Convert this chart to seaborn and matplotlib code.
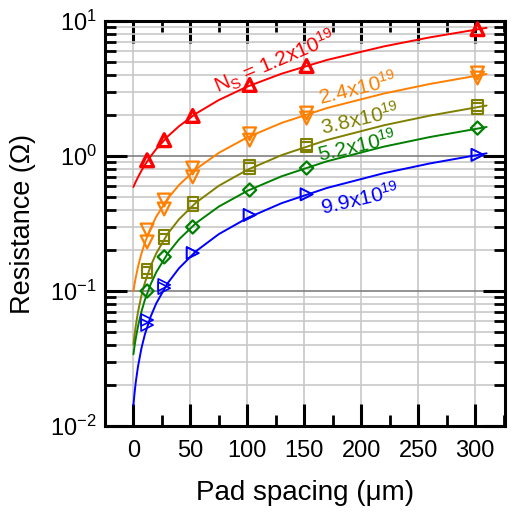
import numpy as np
import pandas as pd
import matplotlib
matplotlib.use("Agg")
import matplotlib.pyplot as plt
import seaborn as sns
from matplotlib.ticker import LogLocator, MultipleLocator, LogFormatterSciNotation, NullFormatter

# ---- data ----
pad_x = [12, 27, 52, 102, 152, 302]

red_pts = [0.93, 1.31, 1.98, 3.36, 4.64, 8.7]
orange_pts_a = [0.283, 0.472, 0.815, 1.46, 2.08, 4.12]
orange_pts_b = [0.231, 0.405, 0.70, 1.31, 1.91, 3.78]
olive_pts_a = [0.145, 0.258, 0.452, 0.85, 1.22, 2.37]
olive_pts_b = [0.137, 0.244, 0.428, 0.81, 1.16, 2.25]
green_pts = [0.100, 0.179, 0.298, 0.56, 0.815, 1.61]
blue_pts_a = [0.061, 0.111, 0.191, 0.366, 0.52, 1.02]
blue_pts_b = [0.056, 0.105, 0.191, 0.366, 0.52, 1.02]

fit_x = [0, 1, 2, 4, 7, 10, 15, 20, 30, 40, 55, 75, 100, 130, 170, 220, 260, 310]
red_fit = [0.59, 0.617, 0.644, 0.697, 0.778, 0.858, 0.992, 1.126, 1.394, 1.662,
           2.064, 2.60, 3.27, 4.07, 5.15, 6.49, 7.56, 8.90]
orange_fit = [0.100, 0.1128, 0.1255, 0.151, 0.189, 0.2275, 0.291, 0.355, 0.4825, 0.61,
              0.801, 1.056, 1.375, 1.758, 2.268, 2.905, 3.415, 4.053]
olive_fit = [0.040, 0.0475, 0.055, 0.070, 0.0925, 0.115, 0.1525, 0.19, 0.265, 0.34,
             0.4525, 0.6025, 0.79, 1.015, 1.315, 1.69, 1.99, 2.365]
green_fit = [0.034, 0.0392, 0.0444, 0.0547, 0.0703, 0.0858, 0.1117, 0.1376, 0.1894, 0.2412,
             0.3189, 0.4225, 0.552, 0.7074, 0.9146, 1.174, 1.381, 1.640]
blue_fit = [0.0143, 0.0176, 0.0210, 0.0276, 0.0376, 0.0476, 0.0643, 0.0809, 0.1142, 0.1475,
            0.1975, 0.2641, 0.3473, 0.4472, 0.5804, 0.7469, 0.8801, 1.0466]

labels = ["N$_S$ = 1.2x10$^{19}$", "2.4x10$^{19}$", "3.8x10$^{19}$", "5.2x10$^{19}$", "9.9x10$^{19}$"]
colors = ["#ff0000", "#ff8000", "#808000", "#008000", "#0000ff"]

# ---- style ----
sns.set_theme(style="ticks")
plt.rcParams["font.family"] = ["Liberation Sans", "DejaVu Sans"]
plt.rcParams["mathtext.fontset"] = "custom"
plt.rcParams["mathtext.rm"] = "Liberation Sans"
plt.rcParams["mathtext.it"] = "Liberation Sans"
plt.rcParams["mathtext.default"] = "regular"
for k in ["text.color", "axes.labelcolor", "xtick.color", "ytick.color", "axes.edgecolor"]:
    plt.rcParams[k] = "black"

fig = plt.figure(figsize=(5.12, 5.15), dpi=100)
ax = fig.add_axes([0.205, 0.1728, 0.781, 0.7864])
ax.set_yscale("log")

# curves
fits = [red_fit, orange_fit, olive_fit, green_fit, blue_fit]
for f, c in zip(fits, colors):
    sns.lineplot(x=fit_x, y=f, color=c, lw=1.4, ax=ax, sort=False, estimator=None, zorder=3)

# markers
def pts(y, c, m, s, lw):
    sns.scatterplot(x=pad_x, y=y, color=c, marker=m, s=s, facecolor="none",
                    edgecolor=c, linewidth=lw, ax=ax, zorder=4)

pts(red_pts, colors[0], "^", 85, 2.4)
pts(orange_pts_a, colors[1], "v", 85, 1.6)
pts(orange_pts_b, colors[1], "v", 85, 1.6)
pts(olive_pts_a, colors[2], "s", 55, 1.5)
pts(olive_pts_b, colors[2], "s", 55, 1.5)
pts(green_pts, colors[3], "D", 45, 1.6)
pts(blue_pts_a, colors[4], ">", 75, 1.2)
pts(blue_pts_b, colors[4], ">", 75, 1.2)

# annotations
ann_pos = [(124, 5.0, 23), (197, 3.15, 14), (199, 1.89, 13), (196, 1.18, 13), (199, 0.48, 13)]
for (x, y, r), t, c in zip(ann_pos, labels, colors):
    ax.text(x, y, t, color=c, fontsize=15, rotation=r, ha="center", va="center",
            rotation_mode="anchor", zorder=5)

ax.set_xlim(-25, 326)
ax.set_ylim(1e-2, 1e1)

ax.xaxis.set_major_locator(MultipleLocator(50))
ax.xaxis.set_minor_locator(MultipleLocator(25))
ax.yaxis.set_major_locator(LogLocator(base=10, numticks=10))
ax.yaxis.set_minor_locator(LogLocator(base=10, subs=np.arange(2, 10), numticks=20))
ax.yaxis.set_major_formatter(LogFormatterSciNotation())
ax.yaxis.set_minor_formatter(NullFormatter())

ax.grid(True, which="major", axis="x", color="#c8c8c8", lw=1.2, zorder=0)
ax.grid(True, which="minor", axis="y", color="#c8c8c8", lw=1.2, zorder=0)
ax.grid(True, which="major", axis="y", color="#808080", lw=1.2, zorder=0)
ax.set_axisbelow(True)

ax.tick_params(which="both", direction="in", top=True, right=True, colors="black")
ax.tick_params(which="major", length=16, width=2.2, labelsize=17)
ax.tick_params(axis="x", which="major", pad=10)
ax.tick_params(axis="y", which="major", pad=6)
ax.tick_params(which="minor", length=8, width=2.0)
for sp in ax.spines.values():
    sp.set_linewidth(2.2)
    sp.set_color("black")

ax.set_xlabel("Pad spacing (μm)", fontsize=20, labelpad=13)
ax.set_ylabel("Resistance (Ω)", fontsize=19.5, labelpad=10)

fig.savefig("out.png", dpi=100)
